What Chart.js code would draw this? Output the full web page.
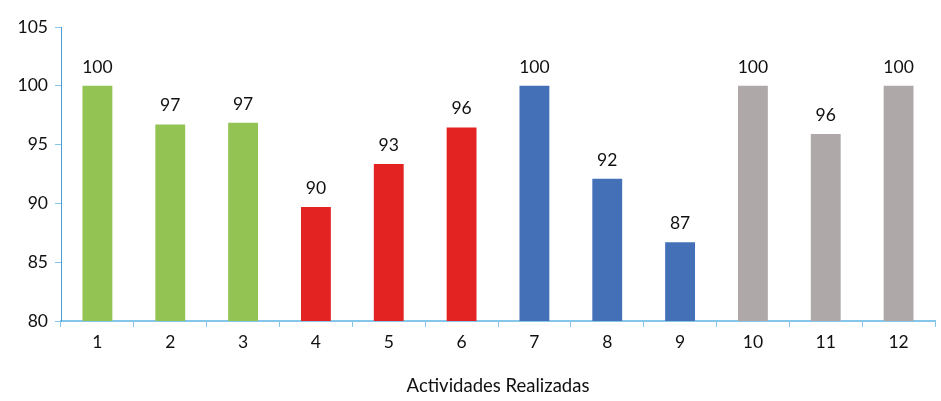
<!DOCTYPE html>
<html>
<head>
<meta charset="utf-8">
<script src="https://cdn.jsdelivr.net/npm/chart.js@4.4.0/dist/chart.umd.min.js"></script>
<style>
  html, body { margin: 0; padding: 0; background: #fff; }
  #wrap { width: 941px; height: 401px; }
</style>
</head>
<body>
<div id="wrap"><canvas id="myChart"></canvas></div>
<script>
// data
const labels = ['1', '2', '3', '4', '5', '6', '7', '8', '9', '10', '11', '12'];
const values = [100, 96.7, 96.85, 89.7, 93.35, 96.45, 100, 92.1, 86.7, 100, 95.9, 100];
const barColors = ['#92c353', '#92c353', '#92c353', '#e32322', '#e32322', '#e32322',
    '#4470b7', '#4470b7', '#4470b7', '#aea9a8', '#aea9a8', '#aea9a8'];
const yTicks = [80, 85, 90, 95, 100, 105];
const xTitle = 'Actividades Realizadas';

Chart.defaults.font.family = 'Lato';
Chart.defaults.color = '#111';

// labels above bars
const valueLabels = {
    id: 'valueLabels',
    afterDatasetsDraw(chart) {
        const ctx = chart.ctx;
        const meta = chart.getDatasetMeta(0);
        ctx.save();
        ctx.font = '17.5px Lato';
        ctx.fillStyle = '#111';
        ctx.textAlign = 'center';
        ctx.textBaseline = 'bottom';
        meta.data.forEach(function (bar, i) {
            ctx.fillText(Math.round(values[i]), bar.x, bar.y - 10);
        });
        ctx.restore();
    }
};

const ctx = document.getElementById('myChart').getContext('2d');
const myChart = new Chart(ctx, {
    type: 'bar',
    data: {
        labels: labels,
        datasets: [{
            data: values,
            backgroundColor: barColors,
            barPercentage: 0.41,
            categoryPercentage: 1
        }]
    },
    options: {
        responsive: true,
        maintainAspectRatio: false,
        animation: false,
        layout: { padding: { top: 27, right: 6, bottom: 0, left: 0 } },
        plugins: {
            legend: { display: false },
            tooltip: { enabled: false }
        },
        scales: {
            x: {
                grid: {
                    display: true,
                    drawOnChartArea: false,
                    drawTicks: true,
                    tickLength: 6,
                    color: '#86c6ea',
                    offset: true
                },
                border: { color: '#86c6ea', width: 2 },
                ticks: { font: { size: 17.5 }, padding: 5, color: '#111' },
                title: {
                    display: true,
                    text: xTitle,
                    font: { size: 18.5 },
                    color: '#111',
                    padding: { top: 10 }
                },
                afterFit: function (scale) { scale.height = 80; }
            },
            y: {
                min: 80,
                max: 105,
                afterBuildTicks: function (scale) {
                    scale.ticks = yTicks.map(function (v) { return { value: v }; });
                },
                grid: {
                    display: true,
                    drawOnChartArea: false,
                    tickLength: 6,
                    color: '#86c6ea'
                },
                border: { color: '#4a9fd6', width: 1 },
                ticks: { font: { size: 17.5 }, padding: 7, color: '#111' },
                afterFit: function (scale) { scale.width = 61; }
            }
        }
    },
    plugins: [valueLabels]
});
</script>
</body>
</html>
